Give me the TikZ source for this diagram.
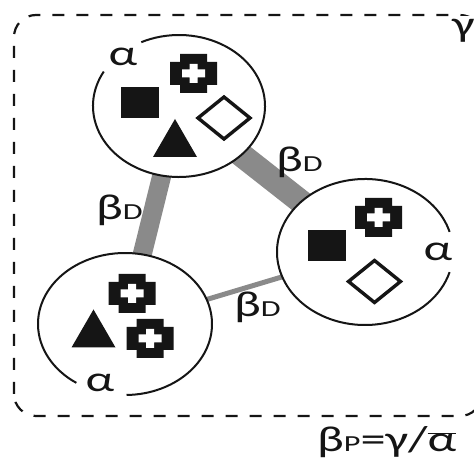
\documentclass[tikz,border=0pt]{standalone}
\usepackage{fontspec}
\setmainfont{Carlito}
\usetikzlibrary{shapes.geometric,backgrounds}
\newcommand\lowlet[1]{{\fontsize{23}{23}\selectfont #1}}
\newcommand\wide[1]{\scalebox{1.4}[1]{#1}}
\definecolor{ink}{HTML}{151515}
\definecolor{barcol}{HTML}{8A8A8A}
\tikzset{
  blob/.style={ellipse, fill=white, draw=none, inner sep=0pt},
  rim/.style={line width=2pt, draw=ink},
  bar/.style={draw=barcol},
  lbl/.style={font=\fontsize{36}{36}\selectfont, inner sep=0pt, text=ink},
  frame/.style={draw=ink, line width=2.2pt, dash pattern=on 12pt off 12pt, rounded corners=22pt},
  medcross/.pic={
    \fill[ink] (-13.5,19.5) -- (13.5,19.5) -- (13.5,11.5) -- (23.5,11.5) -- (23.5,-11.5)
      -- (13.5,-11.5) -- (13.5,-19.5) -- (-13.5,-19.5) -- (-13.5,-11.5) -- (-23.5,-11.5)
      -- (-23.5,11.5) -- (-13.5,11.5) -- cycle;
    \fill[white] (-4,9.5) -- (4,9.5) -- (4,4) -- (11.5,4) -- (11.5,-4) -- (4,-4) -- (4,-9.5)
      -- (-4,-9.5) -- (-4,-4) -- (-11.5,-4) -- (-11.5,4) -- (-4,4) -- cycle;
  },
  blocksq/.pic={\fill[ink] (-19,-15.5) rectangle (19,15.5);},
  tri/.pic={\fill[ink] (-22,-19) -- (22,-19) -- (0,19) -- cycle;},
  diam/.pic={\draw[ink, fill=white, line width=3.4pt, line join=miter]
    (-26,0) -- (0,21) -- (26,0) -- (0,-21) -- cycle;}
}
\begin{document}
\begin{tikzpicture}[x=1pt,y=1pt]
\useasboundingbox (0,0) rectangle (474,463);
\clip (0,0) rectangle (474,463);

% outer dashed boundary
\draw[frame] (14,47) rectangle (482,448);

% the three communities
\node[blob, minimum width=172pt, minimum height=142pt] (top) at (179,357) {};
\node[blob, minimum width=176pt, minimum height=146pt] (rt) at (365,211) {};
\node[blob, minimum width=174pt, minimum height=142pt] (bl) at (125,139) {};

% connections between communities, under the ellipses
\begin{scope}[on background layer]
  \draw[bar, line width=19pt] (top.center) -- (bl.center);
  \draw[bar, line width=24pt] (top.center) -- (rt.center);
  \draw[bar, line width=5pt] (bl.center) -- (rt.center);
\end{scope}

% ellipse outlines, open where the alpha labels sit
\draw[rim] (top.center) ++(151:86pt and 71pt)
  arc[start angle=151, end angle=476, x radius=86pt, y radius=71pt];
\draw[rim] (rt.center) ++(16:88pt and 73pt)
  arc[start angle=16, end angle=344, x radius=88pt, y radius=73pt];
\draw[rim] (bl.center) ++(271:87pt and 71pt)
  arc[start angle=271, end angle=596, x radius=87pt, y radius=71pt];

% alpha labels
\node[lbl] (atop) at (123,406) {\wide{α}};
\node[lbl] (art) at (438,211) {\wide{α}};
\node[lbl] (abl) at (100,80) {\wide{α}};

% species in the top community
\pic at (193.5,389.5) {medcross};
\pic at (140,360.5) {blocksq};
\pic at (175,325) {tri};
\pic at (224,345) {diam};

% species in the right community
\pic at (378.5,245.5) {medcross};
\pic at (327,217.5) {blocksq};
\pic at (374.5,181.5) {diam};

% species in the lower-left community
\pic at (93.5,134.5) {tri};
\pic at (132,169.5) {medcross};
\pic at (150,124.5) {medcross};

% beta_D labels on the connections
\node[lbl, anchor=base west] (bd1) at (96,243) {\wide{β\lowlet{D}}};
\node[lbl, anchor=base west] (bd2) at (276,291) {\wide{β\lowlet{D}}};
\node[lbl, anchor=base west] (bd3) at (234,146) {\wide{β\lowlet{D}}};

% gamma label on the boundary and the partition formula
\node[lbl, fill=white, anchor=west, inner sep=3pt] (gam) at (449,432) {\wide{γ}};
\node[lbl, anchor=base west] (form) at (317,11) {\wide{β\lowlet{P}=γ/$\overline{\hbox{α}}$}};
\end{tikzpicture}
\end{document}
